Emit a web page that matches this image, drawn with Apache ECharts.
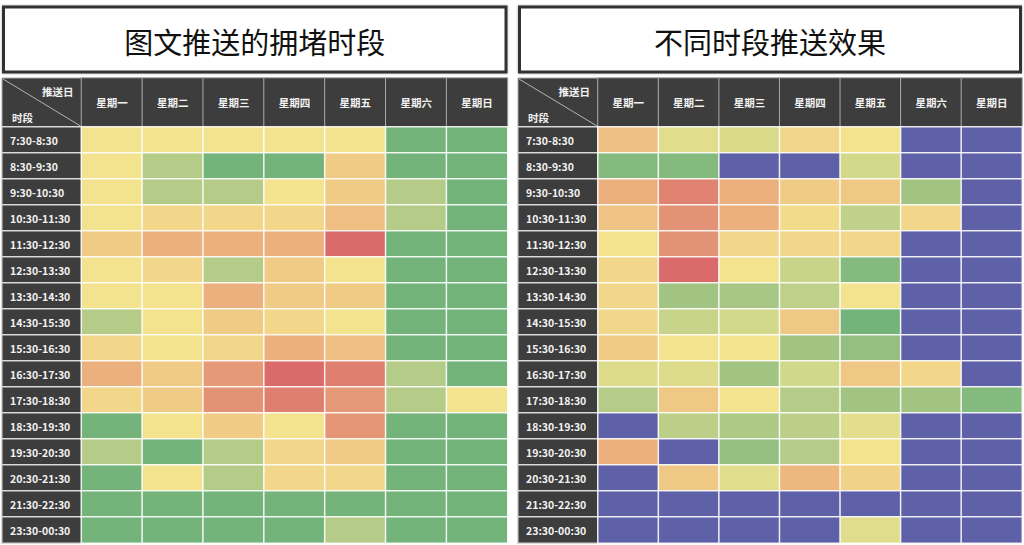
<!DOCTYPE html>
<html>
<head>
<meta charset="utf-8">
<title>推送时段</title>
<script src="https://cdn.jsdelivr.net/npm/echarts@6/dist/echarts.min.js"></script>
<style>
  html, body { margin: 0; padding: 0; background: #fff; }
  #chart { width: 1024px; height: 545px; }
</style>
</head>
<body>
<div id="chart"></div>
<script>
const days = ["星期一", "星期二", "星期三", "星期四", "星期五", "星期六", "星期日"];
const slots = [
  "7:30-8:30", "8:30-9:30", "9:30-10:30", "10:30-11:30", "11:30-12:30",
  "12:30-13:30", "13:30-14:30", "14:30-15:30", "15:30-16:30", "16:30-17:30",
  "17:30-18:30", "18:30-19:30", "19:30-20:30", "20:30-21:30", "21:30-22:30",
  "23:30-00:30",
];
const titles = ["图文推送的拥堵时段", "不同时段推送效果"];

// congestion level, 0 = free (green) .. 6 = jammed (red)
const congestion = [
  [2, 2, 2, 2, 2, 0, 0],
  [2, 1, 0, 0, 3, 0, 0],
  [2, 1, 1, 2, 3, 1, 0],
  [2, 2.5, 2.5, 2.5, 3.5, 1, 0],
  [3, 4, 4, 4, 6, 0, 0],
  [2, 2.5, 1, 3, 2, 0, 0],
  [2, 2, 4, 3, 3, 0, 0],
  [1, 2, 3, 2.5, 2, 0, 0],
  [2.5, 2, 2.5, 4, 3.5, 0, 0],
  [4, 3, 4.8, 6, 5.5, 1, 0],
  [2.5, 3, 5, 5.5, 4.8, 1, 2],
  [0, 2, 3, 2, 4.9, 0, 0],
  [1, 0, 1, 2.5, 3, 0, 0],
  [0, 2, 1, 2.5, 2.5, 0, 0],
  [0, 0, 0, 0, 0, 0, 0],
  [0, 0, 0, 0, 1, 0, 0],
];

// push effect, 0 = poor (red) .. 8 = good (green), -1 = not pushed
const N = -1;
const effect = [
  [2.6, 4.6, 4.8, 3.4, 4, N, N],
  [7.5, 7.5, N, N, 5, N, N],
  [2, 0.6, 2, 3, 2.9, 6.6, N],
  [2.7, 1, 2, 3.7, 5.6, 3.5, N],
  [4, 1, 3.5, 3.5, 3.5, N, N],
  [3.5, 0, 4, 5.4, 7.5, N, N],
  [3.5, 6.6, 6.4, 5.7, 4, N, N],
  [3.5, 5.4, 5, 2.9, 8, N, N],
  [3, 4, 4, 6.6, 7, N, N],
  [4.7, 4.7, 6.6, 5.1, 2.9, 3.5, N],
  [6, 2.9, 4, 6, 6.6, 6.6, 7.5],
  [N, 5.8, 6.2, 5.8, 4.5, N, N],
  [2, N, 7, 6, 4, N, N],
  [N, 2.9, 4.6, 2.3, 3.3, N, N],
  [N, N, N, N, N, N, N],
  [N, N, N, N, 4.6, N, N],
];

const congestionColors = ["#74b47b", "#b5cc88", "#f3e38f", "#f0cb86", "#ebb07e", "#e39375", "#db6b6a"];
const effectColors = ["#db6b6a", "#e39375", "#ebb07e", "#f0cb86", "#f3e38f", "#d3d98a", "#b5cc88", "#94bf80", "#74b47b"];
const noPushColor = "#5f61a8";

const FONT = '"Noto Sans CJK SC", "Noto Sans", sans-serif';
const DARK = "#3d3d3d";

function toCells(rows) {
  const out = [];
  rows.forEach((row, y) => row.forEach((v, x) => out.push([x, y, v])));
  return out;
}

// layout of the two tables
const boxes = [
  { left: 2, labelW: 79.5, dataW: 426, values: congestion },
  { left: 518, labelW: 80, dataW: 424, values: effect },
];
const headTop = 78, headH = 49, bodyTop = 127, bodyH = 416;

const grid = [], xAxis = [], yAxis = [], series = [], graphic = [];
const cellLabel = {
  show: true,
  color: "#f2f2f2",
  fontWeight: "bold",
  fontSize: 10.5,
  fontFamily: FONT,
};

boxes.forEach((b, t) => {
  const g = t * 3;
  grid.push(
    { left: b.left + b.labelW, top: headTop, width: b.dataW, height: headH },
    { left: b.left, top: bodyTop, width: b.labelW, height: bodyH },
    { left: b.left + b.labelW, top: bodyTop, width: b.dataW, height: bodyH }
  );
  xAxis.push(
    { type: "category", data: days, gridIndex: g, show: false },
    { type: "category", data: ["时段"], gridIndex: g + 1, show: false },
    { type: "category", data: days, gridIndex: g + 2, show: false }
  );
  yAxis.push(
    { type: "category", data: ["推送日"], gridIndex: g, show: false },
    { type: "category", data: slots, gridIndex: g + 1, inverse: true, show: false },
    { type: "category", data: slots, gridIndex: g + 2, inverse: true, show: false }
  );
  series.push(
    {
      type: "heatmap",
      xAxisIndex: g,
      yAxisIndex: g,
      silent: true,
      data: days.map((d, i) => [i, 0, 0]),
      itemStyle: { color: DARK, borderColor: "#a8a8a8", borderWidth: 1 },
      label: { ...cellLabel, formatter: (p) => days[p.value[0]] },
    },
    {
      type: "heatmap",
      xAxisIndex: g + 1,
      yAxisIndex: g + 1,
      silent: true,
      data: slots.map((s, i) => [0, i, 0]),
      itemStyle: { color: DARK, borderColor: "#d8d8d8", borderWidth: 1.5 },
      label: {
        ...cellLabel,
        position: "insideLeft",
        distance: 9,
        formatter: (p) => slots[p.value[1]],
      },
    },
    {
      type: "heatmap",
      xAxisIndex: g + 2,
      yAxisIndex: g + 2,
      silent: true,
      data: toCells(b.values),
      itemStyle: { borderColor: "rgba(255,255,255,0.85)", borderWidth: 1.5 },
    }
  );

  // title box
  graphic.push(
    {
      type: "rect",
      shape: { x: b.left + 1.5, y: 7, width: b.labelW + b.dataW - 3, height: 65 },
      style: { fill: "#fff", stroke: "#333", lineWidth: 3, shadowBlur: 2, shadowColor: "rgba(0,0,0,0.35)" },
    },
    {
      type: "text",
      x: b.left + (b.labelW + b.dataW) / 2,
      y: 41,
      style: {
        text: titles[t],
        fill: "#111",
        font: "29px " + FONT,
        textAlign: "center",
        textVerticalAlign: "middle",
      },
    },
    // corner cell
    {
      type: "rect",
      shape: { x: b.left, y: headTop, width: b.labelW, height: headH },
      style: { fill: DARK, stroke: "#a8a8a8", lineWidth: 1 },
    },
    {
      type: "line",
      shape: { x1: b.left + 1, y1: headTop + 1, x2: b.left + b.labelW - 1, y2: headTop + headH - 1 },
      style: { stroke: "#b4b4b4", lineWidth: 1 },
    },
    {
      type: "text",
      x: b.left + b.labelW - 8,
      y: headTop + 13,
      style: { text: "推送日", fill: "#f2f2f2", font: "bold 10.5px " + FONT, textAlign: "right", textVerticalAlign: "middle" },
    },
    {
      type: "text",
      x: b.left + 10,
      y: headTop + 39,
      style: { text: "时段", fill: "#f2f2f2", font: "bold 10.5px " + FONT, textAlign: "left", textVerticalAlign: "middle" },
    }
  );
});

const myChart = echarts.init(document.getElementById("chart"), null, { renderer: "svg" });
const option = {
  animation: false,
  backgroundColor: "#fff",
  grid,
  xAxis,
  yAxis,
  visualMap: [
    {
      type: "continuous",
      show: false,
      seriesIndex: 2,
      min: 0,
      max: 6,
      inRange: { color: congestionColors },
    },
    {
      // -1 sits below the selected range, so it takes the "not pushed" colour
      type: "continuous",
      show: false,
      seriesIndex: 5,
      min: -1,
      max: 8,
      range: [0, 8],
      inRange: { color: [effectColors[0]].concat(effectColors) },
      outOfRange: { color: [noPushColor] },
    },
  ],
  series,
  graphic,
};
myChart.setOption(option);
window.addEventListener("resize", () => myChart.resize());
</script>
</body>
</html>
